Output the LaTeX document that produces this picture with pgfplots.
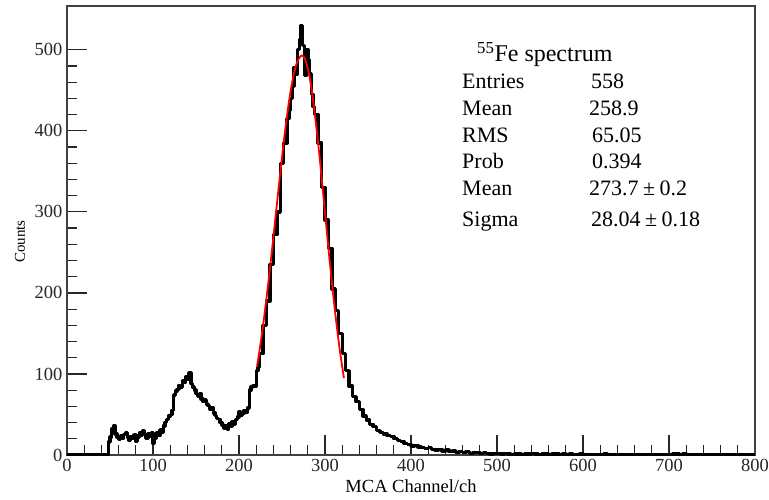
\documentclass[border=0pt]{standalone}
\usepackage{fontspec}
\setmainfont{Liberation Serif}
\usepackage{pgfplots}
\pgfplotsset{compat=1.18}
\pgfplotsset{major tick length=20bp, minor tick length=10bp}
\begin{document}
\begin{tikzpicture}
\useasboundingbox (-67bp,-45bp) rectangle (702bp,455bp);
\begin{axis}[at={(0,0)}, anchor=south west, scale only axis,
  width=688bp, height=449bp,
  xmin=0, xmax=800, ymin=0, ymax=554,
  xtick={0,100,...,800}, ytick={0,100,...,500},
  minor x tick num=4, minor y tick num=4,
  xtick pos=bottom, ytick pos=left, tick align=inside,
  major tick length=20bp, minor tick length=10bp,
  axis line style={line width=1.2bp, black!75},
  major tick style={line width=1.2bp, black!85},
  minor tick style={line width=1.2bp, black!85},
  /pgf/number format/assume math mode=true,
  tick label style={font=\fontsize{18.5bp}{18.5bp}\selectfont, black!85},
  xticklabel style={yshift=-1bp},
  yticklabel style={xshift=-1bp},
  xlabel={MCA Channel/ch},
  xlabel style={at={(axis description cs:0.5,0)}, anchor=base, yshift=-37bp, font=\fontsize{18.5bp}{18.5bp}\selectfont},
  ylabel={Counts},
  ylabel style={at={(axis description cs:-0.0683,0.475)}, anchor=center, font=\fontsize{15bp}{15bp}\selectfont},
]
\addplot[const plot mark left, black, line width=3.4bp, line join=round] coordinates {
(0,0)(48,16)(50,22)(52,33)(54,36)(56,26)(58,22)(60,19)(62,24)(64,21)(66,25)
(68,28)(70,22)(72,18)(74,23)(76,21)(78,25)(80,17)(82,22)(84,27)(86,24)
(88,30)(90,25)(92,21)(94,26)(96,23)(98,27)(100,14)(102,20)(104,27)(106,24)
(108,31)(110,28)(112,36)(114,40)(116,44)(118,48)(120,50)(122,55)(124,74)(126,79)
(128,81)(130,86)(132,84)(134,92)(136,90)(138,97)(140,94)(142,101)(144,88)(146,84)
(148,80)(150,76)(152,73)(154,76)(156,69)(158,66)(160,68)(162,63)(164,61)(166,57)
(168,58)(170,52)(172,49)(174,45)(176,44)(178,40)(180,37)(182,33)(184,36)(186,32)
(188,39)(190,36)(192,41)(194,38)(196,44)(198,47)(200,53)(202,49)(204,51)(206,55)
(208,53)(210,58)(212,80)(214,84)(216,86)(218,85)(220,104)(222,108)
(224,125)(228,160)(232,190)(236,235)(240,272)(244,300)(248,360)(252,385)
(256,415)(258,425)(260,440)(262,455)(264,478)(266,470)(268,500)(270,512)(272,530)(274,505)
(276,468)(278,500)(280,488)(282,470)(284,445)(286,430)
(288,420)(292,385)(296,330)(300,290)(304,255)(308,205)(312,178)(316,150)(320,125)
(324,104)(328,85)(332,72)(336,66)(340,56)(344,48)(348,43)(352,38)(356,35)(360,30)
(364,28)(368,26)(372,24)(376,23)(380,20)(384,18)(388,17)(392,14)(396,13)(400,11)
(404,12)(408,10)(412,9)(416,8)(420,9)(424,7)(428,6)(432,7)(436,5)(440,6)
(444,4)(448,5)(452,3)(456,4)(460,3)(464,4)(468,2)(472,3)(476,3)(480,2)
(484,3)(488,2)(492,1)(496,2)(500,2)(504,1)(508,2)(512,1)(516,0)(520,1)
(524,1)(528,0)(532,1)(536,1)(540,2)(544,1)(548,0)(552,1)(556,1)(560,0)
(564,1)(568,1)(572,0)(576,1)(580,0)(584,1)(588,0)(592,0)(596,1)(600,0)
(620,0)(624,1)(628,0)(660,0)(704,1)(708,1)(712,0)(716,1)(720,0)(760,0)(800,0)
};
\addplot[red, line width=1.8bp, smooth] coordinates {
(221,110)(224,130)(228,160)(232,194)(236,230)(240,269)(244,309)(248,348)
(252,386)(256,420)(260,449)(264,471)(268,486)(273,493)(277,488)(281,472)
(285,447)(289,413)(293,375)(297,332)(301,288)(305,244)(309,203)(313,165)
(317,131)(322,95)
};
\end{axis}
\begin{scope}[every node/.style={anchor=base west, inner sep=0pt, font=\fontsize{22bp}{22bp}\selectfont}]
\node[font=\fontsize{24bp}{24bp}\selectfont] at (410bp,393bp) {\textsuperscript{55}Fe spectrum};
\node at (395bp,366bp) {Entries};
\node at (524bp,366bp) {558};
\node at (395bp,339bp) {Mean};
\node at (522bp,339bp) {258.9};
\node at (395bp,312bp) {RMS};
\node at (525bp,312bp) {65.05};
\node at (395bp,286bp) {Prob};
\node at (525bp,286bp) {0.394};
\node at (395bp,259bp) {Mean};
\node at (522bp,259bp) {273.7\hspace{0.2em}±\hspace{0.2em}0.2};
\node at (395bp,228bp) {Sigma};
\node at (524bp,228bp) {28.04\hspace{0.2em}±\hspace{0.2em}0.18};
\end{scope}
\end{tikzpicture}
\end{document}
